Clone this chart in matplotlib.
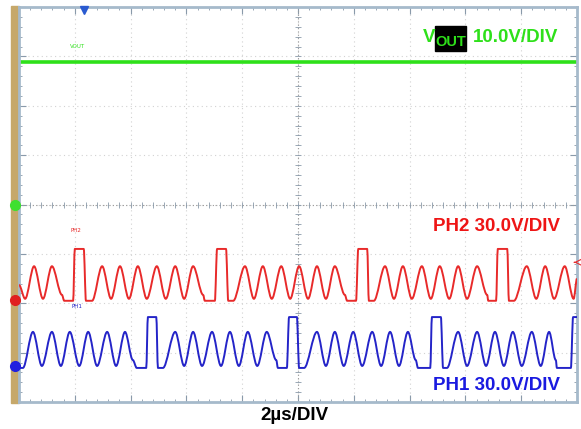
import numpy as np
import matplotlib
matplotlib.use('Agg')
from matplotlib import pyplot as plt
from matplotlib.patches import Rectangle, PathPatch
from matplotlib.path import Path

# scope traces, time in divisions (2us/div), level in divisions
vout_t = [0.0, 10.0]
vout_v = [2.885, 2.885]

# PH2 (red) switch node
ph2_t = [0.00, 0.11, 0.27, 0.43, 0.59, 0.77, 0.81, 0.97, 1.00, 1.16, 1.20, 1.31,
         1.49, 1.65, 1.81, 1.97, 2.13, 2.29, 2.47, 2.63, 2.80, 2.96, 3.12,
         3.30, 3.33, 3.51, 3.55, 3.71, 3.75, 3.84,
         4.05, 4.21, 4.37, 4.53, 4.70, 4.86, 5.02, 5.18, 5.34, 5.50, 5.66,
         5.84, 5.88, 6.04, 6.08, 6.24, 6.27, 6.36,
         6.56, 6.72, 6.88, 7.04, 7.22, 7.38, 7.54, 7.71, 7.87, 8.03, 8.21,
         8.39, 8.41, 8.55, 8.58, 8.75, 8.78, 8.87,
         9.10, 9.27, 9.43, 9.59, 9.78, 9.94, 10.00]
ph2_v = [-1.63, -1.91, -1.25, -1.91, -1.25, -1.83, -1.95, -1.95, -0.90, -0.90, -1.95, -1.95,
         -1.25, -1.91, -1.25, -1.91, -1.25, -1.91, -1.25, -1.91, -1.25, -1.91, -1.25,
         -1.83, -1.95, -1.95, -0.90, -0.90, -1.95, -1.95,
         -1.25, -1.91, -1.25, -1.91, -1.25, -1.91, -1.25, -1.91, -1.25, -1.91, -1.25,
         -1.83, -1.95, -1.95, -0.90, -0.90, -1.95, -1.95,
         -1.25, -1.91, -1.25, -1.91, -1.25, -1.91, -1.25, -1.91, -1.25, -1.91, -1.25,
         -1.83, -1.95, -1.95, -0.90, -0.90, -1.95, -1.95,
         -1.25, -1.91, -1.25, -1.91, -1.25, -1.91, -1.50]

# PH1 (blue) switch node
ph1_t = [0.00, 0.07, 0.25, 0.41, 0.59, 0.75, 0.91, 1.08, 1.24, 1.40, 1.58, 1.74, 1.90,
         2.04, 2.11, 2.28, 2.31, 2.46, 2.49, 2.58,
         2.80, 2.96, 3.12, 3.28, 3.46, 3.62, 3.78, 3.94, 4.10, 4.27, 4.44,
         4.61, 4.64, 4.80, 4.84, 4.98, 5.02, 5.11,
         5.34, 5.50, 5.66, 5.82, 5.99, 6.15, 6.33, 6.49, 6.65, 6.81, 6.97,
         7.11, 7.15, 7.37, 7.40, 7.56, 7.60, 7.67,
         7.87, 8.03, 8.21, 8.37, 8.53, 8.69, 8.85, 9.01, 9.19, 9.35, 9.50,
         9.62, 9.64, 9.89, 9.93, 10.00]
ph1_v = [-3.31, -3.31, -2.58, -3.27, -2.58, -3.27, -2.58, -3.27, -2.58, -3.27, -2.58, -3.27, -2.58,
         -3.15, -3.31, -3.31, -2.28, -2.28, -3.31, -3.31,
         -2.58, -3.27, -2.58, -3.27, -2.58, -3.27, -2.58, -3.27, -2.58, -3.27, -2.58,
         -3.15, -3.31, -3.31, -2.28, -2.28, -3.31, -3.31,
         -2.58, -3.27, -2.58, -3.27, -2.58, -3.27, -2.58, -3.27, -2.58, -3.27, -2.58,
         -3.15, -3.31, -3.31, -2.28, -2.28, -3.31, -3.31,
         -2.58, -3.27, -2.58, -3.27, -2.58, -3.27, -2.58, -3.27, -2.58, -3.27, -2.58,
         -3.15, -3.31, -3.31, -2.28, -2.28]

W, H = 581, 429
green = '#2ee01a'
red = '#e82a2a'
blue = '#2424c8'

fig = plt.figure(figsize=(W / 100, H / 100), dpi=100)

def fx(px):
    return px / W

def fy(py):
    return 1 - py / H

def trace(ax, t, v, color, lw):
    # smooth bezier through the read points, flat tangent at each point
    verts = [(t[0], v[0])]
    codes = [Path.MOVETO]
    for i in range(1, len(t)):
        d = (t[i] - t[i - 1]) / 3
        verts += [(t[i - 1] + d, v[i - 1]), (t[i] - d, v[i]), (t[i], v[i])]
        codes += [Path.CURVE4] * 3
    ax.add_patch(PathPatch(Path(verts, codes), fill=False, edgecolor=color,
                           linewidth=lw, joinstyle='round', zorder=3))

# tan strip on the left of the screen
fig.patches.append(Rectangle((fx(11), fy(403)), fx(8), (403 - 6) / H,
                             transform=fig.transFigure, color='#c6a86a', zorder=-1))

ax = fig.add_axes([fx(19), fy(402), 558 / W, 395 / H])
ax.set_xlim(0, 10)
ax.set_ylim(-4, 4)
for s in ax.spines.values():
    s.set_color('#a6bacb')
    s.set_linewidth(2)

# graticule
ax.set_xticks(np.arange(0, 11, 1))
ax.set_yticks(np.arange(-4, 5, 1))
ax.set_xticks(np.arange(0, 10.01, 0.2), minor=True)
ax.set_yticks(np.arange(-4, 4.01, 0.2), minor=True)
ax.tick_params(which='both', direction='in', top=True, right=True,
               labelbottom=False, labelleft=False, color='#8a9aaa')
ax.tick_params(which='major', length=5, width=0.8)
ax.tick_params(which='minor', length=2.5, width=0.6)
ax.grid(True, which='major', color='#d2d2d2', linestyle=(0, (1, 3)), linewidth=0.8)
ax.axvline(5, color='#9a9a9a', linestyle=(0, (1, 2)), linewidth=0.8)
ax.axhline(0, color='#9a9a9a', linestyle=(0, (1, 2)), linewidth=0.8)
mt = np.arange(0.2, 10, 0.2)
ax.plot(mt, np.zeros_like(mt), ls='none', marker='|', ms=4, mew=0.6, color='#8a9aaa')
mv = np.arange(-3.8, 4, 0.2)
ax.plot(np.full_like(mv, 5), mv, ls='none', marker='_', ms=4, mew=0.6, color='#8a9aaa')

# traces
ax.plot(vout_t, vout_v, color=green, linewidth=2.6, solid_capstyle='butt')
trace(ax, ph2_t, ph2_v, red, 1.4)
trace(ax, ph1_t, ph1_v, blue, 1.4)

# channel markers and trigger
ax.plot([-0.08], [0], marker='o', ms=7, color='#3ee030', clip_on=False, zorder=6)
ax.plot([-0.07], [-1.93], marker='o', ms=7, color='#e02020', clip_on=False, zorder=6)
ax.plot([-0.07], [-3.28], marker='o', ms=7, color='#2020e0', clip_on=False, zorder=6)
ax.plot([1.165], [3.93], marker='v', ms=6, color='#2a5ad0', clip_on=False, zorder=6)
ax.annotate('', xy=(9.9, -1.17), xytext=(10.0, -1.17),
            arrowprops=dict(arrowstyle='->', color=red, lw=0.8))

# small trace labels
ax.text(1.04, 3.20, 'VOUT', color=green, fontsize=4, ha='center', va='center')
ax.text(1.02, -0.52, 'PH2', color=red, fontsize=4, ha='center', va='center')
ax.text(1.04, -2.07, 'PH1', color=blue, fontsize=4, ha='center', va='center')

# scale annotations
font = dict(family=['Liberation Sans', 'DejaVu Sans'], fontweight='bold', fontsize=13.5)
fig.text(fx(423), fy(37), 'V', color=green, ha='left', va='center', **font)
fig.patches.append(Rectangle((fx(435), fy(51)), fx(31), 25 / H,
                             transform=fig.transFigure, color='black', zorder=2))
fig.text(fx(450.5), fy(42), 'OUT', color=green, ha='center', va='center',
         family=['Liberation Sans', 'DejaVu Sans'], fontweight='bold', fontsize=10.5, zorder=3)
fig.text(fx(473), fy(37), '10.0V/DIV', color=green, ha='left', va='center', **font)
fig.text(fx(560), fy(227), 'PH2 30.0V/DIV', color='#ee1515', ha='right', va='center', **font)
fig.text(fx(560), fy(386), 'PH1 30.0V/DIV', color='#1a1ae0', ha='right', va='center', **font)
fig.text(fx(294), fy(416), '2\u00b5s/DIV', color='black', ha='center', va='center', **font)

fig.savefig('out.png', dpi=100)
